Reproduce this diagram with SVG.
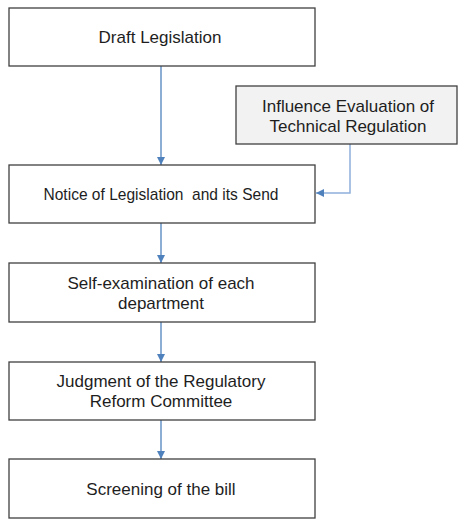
<svg xmlns="http://www.w3.org/2000/svg" width="458" height="519" viewBox="0 0 458 519">
<style>
  .box { fill: #ffffff; stroke: #404040; stroke-width: 1.3; }
  .box2 { fill: #f2f2f2; stroke: #404040; stroke-width: 1.3; }
  .t { font-family: "Liberation Sans", Arial, sans-serif; font-size: 17px; fill: #1e1e1e; text-anchor: middle; }
  .c { fill: none; stroke: #4f81bd; stroke-width: 1.3; }
  .c2 { fill: none; stroke: #8eb0dc; stroke-width: 1.5; }
</style>
<defs>
  <marker id="ah" markerWidth="8" markerHeight="8" refX="8" refY="4" orient="auto" markerUnits="userSpaceOnUse">
    <path d="M0,0 L8,4 L0,8 Z" fill="#4f81bd"/>
  </marker>
</defs>
<rect width="458" height="519" fill="#ffffff"/>
<g id="connectors">
  <path class="c" d="M161,66 V165" marker-end="url(#ah)"/>
  <path class="c2" d="M350,144 V193 H316" marker-end="url(#ah)"/>
  <path class="c" d="M161,223 V263" marker-end="url(#ah)"/>
  <path class="c" d="M161,322 V362" marker-end="url(#ah)"/>
  <path class="c" d="M161,420 V459" marker-end="url(#ah)"/>
</g>
<g id="draft">
  <rect class="box" x="9" y="8" width="306" height="58"/>
  <text class="t" x="160" y="43">Draft Legislation</text>
</g>
<g id="influence">
  <rect class="box2" x="236" y="86" width="221" height="58"/>
  <text class="t" x="348" y="112">Influence Evaluation of</text>
  <text class="t" x="348" y="132">Technical Regulation</text>
</g>
<g id="notice">
  <rect class="box" x="9" y="165" width="306" height="58"/>
  <text class="t" x="161" y="200" textLength="235" lengthAdjust="spacingAndGlyphs" xml:space="preserve">Notice of Legislation  and its Send</text>
</g>
<g id="self">
  <rect class="box" x="9" y="263" width="306" height="59"/>
  <text class="t" x="161" y="289">Self-examination of each</text>
  <text class="t" x="161" y="309">department</text>
</g>
<g id="judgment">
  <rect class="box" x="9" y="362" width="306" height="58"/>
  <text class="t" x="161" y="387">Judgment of the Regulatory</text>
  <text class="t" x="161" y="407">Reform Committee</text>
</g>
<g id="screening">
  <rect class="box" x="9" y="459" width="306" height="59"/>
  <text class="t" x="161" y="495">Screening of the bill</text>
</g>
</svg>
